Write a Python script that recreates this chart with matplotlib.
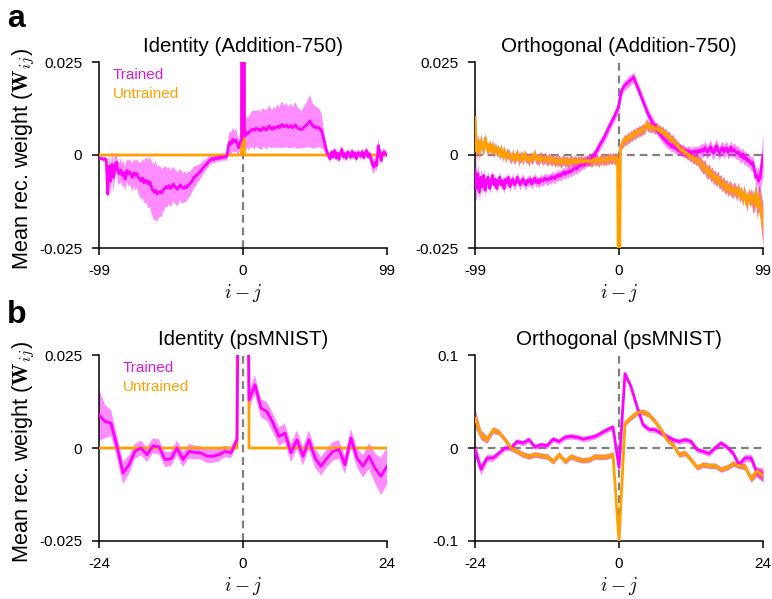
import numpy as np
import matplotlib
matplotlib.use("Agg")
import matplotlib.pyplot as plt

plt.rcParams['font.family'] = ['Liberation Sans', 'DejaVu Sans']
plt.rcParams['mathtext.fontset'] = 'cm'

# ---------------- data (values in units of 1e-3) ----------------
lags_add = list(range(-99, 100))
lags_ps = list(range(-24, 25))

# Identity (Addition-750), trained
id_add_trained_mean = [
    -0.8, -1.0, -0.9, -1.2, -1.0, -1.3,
    -10.5,
    -3, -7, -2.5, -6, -3,
    -2,
    -4.5, -5, -4, -5.5, -4.8, -6.5, -4.2, -5, -4.5, -5.2, -6, -4.8, -5.5, -5, -6,
    -6.5, -7, -6.2, -7.5, -6.8, -7, -7.8, -7.2, -8.5, -9.5,
    -10, -9.5, -10.5, -10, -9.8, -10.2, -9.5, -9,
    -8.5, -8.8, -8.2, -9, -8.6, -7.8, -8.4, -8.8, -9.2, -8.5, -8, -8.7, -9, -8.5, -8.8, -8.2, -8,
    -7.5, -7, -6.2, -5.8,
    -5.5, -5, -4.8, -4.2, -3.8, -3.2, -2.8, -2.5, -2,
    -1.5, -1.2, -0.9, -1.3, -0.8, -1, -0.6, -0.9, -0.5, -0.7, -0.4, -0.6, -0.3,
    2.5, 3.5, 3, 4.2, 3.6, 4, 3.2,
    2, 3.5, 4,
    200,
    5, 5.5, 6, 5.8,
    6.5, 6.8, 7, 6.6, 7.2, 6.9, 7, 6.5, 6.8, 7.4, 7.1, 6.7, 7.3, 7.8, 7.2, 6.9, 7.5, 7.1,
    7.5, 7.8, 7.3, 7.9, 8.2, 7.6, 7.8, 8, 7.4, 7.6, 7.9, 7.3, 7.7, 8.1, 7.5, 7.2,
    7, 6.8, 7.1, 7.5, 7.8, 8.2, 8.6, 9.2, 8.4, 7.8, 7.5, 7.6, 7.2, 7.4, 7, 6.5,
    5, 3.5, 1.8, 0.5, -0.3,
    -1, 0.8, -0.5, 1.2, -0.8, 0.5, -1.2, 0.6, 1.5, -0.5, 0.3, -0.9, 0.8, 0.2, -0.6, 1.0,
    -0.4, 0.5, -1.0, 0.6, 0.2, -0.3, 0.9, -0.7, 0.4, 1.2, -0.5, 0.3, -1.2, -2.5, -3.2, -2.0,
    -2.8, 2.5, 1.0, -1.5, 0.5, 0.8, 0.2, 0.1,
]
id_add_trained_sd = (
    [0.5] * 6 + [1.5] + [3.5, 4, 3.5, 4, 3.5] + [2.5]
    + [3, 3, 3.2, 3, 3.4, 3.2, 3, 3.5, 3.3, 3.6, 3.8, 3.5, 4, 3.8, 4.2]
    + [4.5, 5, 5.2, 5.5, 6, 6.2, 6.5, 6.8, 7, 7.2]
    + [7.5, 8, 7.5, 7, 6.8, 6.5, 6, 5.8]
    + [5.5, 5.2, 5, 4.8, 5, 4.6, 4.5, 4.8, 4.4, 4.5, 4.2, 4.3, 4, 4.2, 3.8, 3.6, 3.5]
    + [3.3, 3.1, 3, 2.8]
    + [2.6, 2.4, 2.2, 2, 1.9, 1.8, 1.6, 1.5, 1.4]
    + [1.3, 1.2, 1.2, 1.1, 1.1, 1, 1, 1, 1, 1, 1, 1, 1.2]
    + [2.5, 3, 3, 3.2, 3, 3, 2.8]
    + [2, 2, 1.5]
    + [0]
    + [3.5, 4, 4.2, 4.5]
    + [4.5, 4.8, 5, 5.2, 4.8, 5, 5.3, 5, 5.5, 5.2, 5, 5.4, 5.2, 5.6, 5.3, 5, 5.5, 5.2]
    + [5.5, 5.8, 5.4, 6, 6.2, 5.8, 5.6, 6, 5.5, 5.8, 6, 5.4, 5.6, 6.2, 5.8, 5.5,
       5.2, 5, 5.3, 5.6, 5.8, 6.2, 6.5, 7, 6.5, 6, 5.8, 5.6, 5.4, 5.2, 5, 4.5]
    + [3.5, 2.5, 1.8, 1.2, 1]
    + [1] * 28 + [1.5, 2, 2, 1.8, 1.5, 2, 1.5, 1.2, 1, 1, 1, 0.8]
)
id_add_untrained_mean = [0.0] * 99 + [1000.0] + [0.0] * 99

# Orthogonal (Addition-750)
orth_add_trained_mean = [
    -4,
    -9, -5, -10, -6, -8.5, -5.5, -9.5, -7, -6, -9, -7.5, -5.5, -8, -6.5, -9, -7,
    -6, -8, -7, -9, -6.5, -7.5, -6, -8.5, -7, -6.5, -8, -7.5, -6, -7, -8,
    -7, -6.5, -7.5, -8, -6.8, -7.2, -6.5, -7.8, -7, -6.2, -7.4, -6.8, -7.6, -6.5, -7, -6.8, -6.2, -6.6,
    -6.8, -6.2, -6.5, -5.8, -6, -6.4, -5.5, -5.8, -5.2, -5.6, -5, -4.6, -5.2, -4.5, -4.8, -4.2, -4.5, -4, -3.8,
    -3.5, -3.8, -3.2, -3, -2.8, -2.2, -2.5, -1.8, -1.5, -1.2, -1.4, -0.8, -0.4,
    0, 0.8, 1.2, 2.2, 2.8, 3.5, 4.2, 4.8, 5.8,
    6.5, 7.5, 8.2, 9, 9.8, 10.5, 11.5, 12.2,
    13.5,
    16, 17.5, 18.2, 18.8, 19, 19.5, 19.8, 20.2, 20.5,
    21,
    19.8, 19, 18, 17, 16, 15, 14, 13, 12, 11, 10.2, 9.5, 8.8, 8.2,
    7.6, 7, 6.2, 5.8, 5.2, 4.6, 4.2, 3.8, 3.3,
    3, 2.8, 2.2, 2.5, 1.8, 2, 1.5, 1.2, 1.6, 1, 0.8, 1.3, 0.6, 0.9, 1.2, 0.7, 0.5, 1, 0.8, 1.1, 0.6, 1.3, 0.9,
    1.5, 1, 2, 1.2, 0.8, 1.6, 2.2, 1, 0.5, 1.8, 2.5, 1.2, 0.6, 1.4, 2, 0.8, 1.5, 1.9, 0.7, 1.2, 2.1, 1, 1.4,
    1, 0.5, 0.8, 0, -0.5, 0.3, -1, -0.6, -1.5, -1.2, -2, -2.5, -2,
    -4, -6, -5.5, -7, -6, -3, 0,
]
orth_add_trained_sd = (
    [8] + [3, 2.8, 2.6, 2.4, 2.2, 2, 1.8, 1.6, 1.5] + [1.4] * 89
    + [1.5] + [1.4] * 55 + [1.8] * 39 + [2.5, 3, 3.5, 4.5, 6]
)
orth_add_untrained_mean = [
    10,
    1, 3.5, 0.5, 4, 2, 1.5, 4.5, 2.5, 0.8, 3, 1.2, 2.8, 0.5, 2.2, 0.8, 1.5, 0, 1.8, -0.5, 1.2, -0.8, 0.5, 0.2, -0.5,
    -1, 0.2, -1.2, -0.5, 0.5, -1.5, -0.8, -0.2, -1.3, 0.3, -1, -0.6, -1.8, -0.4, -1.1, -0.7, 0.4, -1.2, -0.9, -1.5,
    -0.3, -1, -1.4, -0.6, -1.2, -1.6, -0.8, -1.3,
    -1.5, -1, -2, -1.2, -1.8, -1.4, -2.2, -1.6, -1.1, -2, -1.5, -2.3, -1.7, -1.2, -2, -1.8, -1.4, -2.2, -1.5,
    -1.9, -1.3, -2.1, -1.6, -1.8, -1.4,
    -1.8, -1.3, -2, -1.5, -1, -1.7, -1.2, -1.9, -1.4, -0.8, -1.5, -1.1, -1.6, -0.9, -1.3, -0.7, -1.2, -0.6,
    -1.4, -0.8, -1.2,
    -60,
    2, 3, 3.5, 4.2, 3.8, 4.8, 4.4, 5.2, 5,
    5.8, 5.4, 6.2, 6, 6.6, 6.3, 7, 6.8, 7.4,
    8.5, 7.5, 7.8, 7.2, 7.8, 7.3,
    7, 7.5, 6.5, 6.8, 6, 6.5, 5.5, 5.8, 4.8, 5.2, 4.5, 3.8, 4.2, 3.2, 3, 2.4, 2, 1.6,
    1.2, 1.5, 0.5, 0.8, 0, 0.2, -0.5, -0.3, -1, -0.8, -1.5, -1.2, -2, -2.3,
    -2.8, -3.5, -3, -4.2, -4.8, -4, -5.5, -5, -6.2, -5.8, -6.8, -6, -7.5, -7, -8.2, -7.6, -8.8, -8.2, -9.5,
    -8.6, -9.2, -10, -9,
    -9.5, -10.5, -9, -11, -10, -12, -9.8, -11.5, -13.5, -10.5, -12, -11, -13, -12.5, -10, -14, -11.5, -13,
    -16, -19,
]
orth_add_untrained_sd = (
    [8] + [2.5, 2.2, 2, 1.8, 1.6, 1.5] + [1.4] * 92
    + [0] + [1.4] * 55 + [1.8] * 34 + [2, 2.2, 2.5, 2.8, 3, 3.2, 3.5, 4, 5, 6]
)

# Identity (psMNIST)
id_ps_trained_mean = [
    8.9, 7.1, 6.7, 0.4, -6.7, -4.5, -0.9, 0, -1.8, 0.6, 0.3, -3.1, -2.9, 0, -3.1, -0.9,
    -1.2, -1.3, -2.2, -2.2, -1.8, -0.9, -1.3, 2.2,
    200,
    12.9, 17, 10.7, 9.8, 6.7, 3.1, 4, -1.3, 2.2, -2.2, 2.2, -2.7, -4.9, -2.7, -0.9, -0.4,
    -4.5, 2.7, -2.7, -4.9, -2.2, -5.4, -7.6, -4.9,
]
id_ps_trained_sd = [
    7, 4.5, 3.5, 3, 3, 2.5, 2, 2, 2, 2, 2, 2, 2, 2, 2, 2,
    1.8, 1.8, 1.8, 1.8, 1.8, 1.5, 1.5, 1.5,
    0,
    2.5, 2.5, 2.5, 2.5, 2.5, 2.5, 2.5, 2.5, 2.5, 2.5, 2.5, 2.5, 2.5, 2.5, 2.5, 2.5,
    2.5, 2.5, 2.5, 3, 3.5, 4, 5, 5,
]
id_ps_untrained_mean = [0.0] * 24 + [1000.0] + [0.0] * 24

# Orthogonal (psMNIST)
orth_ps_trained_mean = [
    -1.8, -23, -10.7, -10.7, -5.4, 0, 0, 7, 5.4, 9, 1, 3.6, 2.5, 9.6, 7, 11.8,
    12.5, 11.8, 9.6, 11, 12.5, 16, 19.6, 22.5,
    -21,
    80, 66, 44.6, 25, 20, 19.6, 16, 12.5, 9, 7, 9, 7, -1.8, -3.6, -6, 0,
    5.4, 1, -5.4, -17.9, -10.7, -10.7, -26.8, -28.6,
]
orth_ps_trained_sd = [
    8, 6, 4, 3.5, 3, 3, 3, 3, 3, 3, 3, 3, 3, 3, 3, 3,
    3, 3, 3, 3, 3, 3, 3, 3,
    3,
    3, 3, 3, 3, 3, 3, 3, 3, 3, 3, 3, 3, 3, 3, 3, 3,
    3, 3, 3, 3.5, 4, 4, 5, 8,
]
orth_ps_untrained_mean = [
    32, 14, 9, 19.6, 16.8, 9, 0, -3.6, -7, -9, -7, -8.2, -9, -14.3, -7, -14.3,
    -9, -11.8, -13.2, -12.5, -9, -9.6, -9, -7,
    -100,
    26.8, 33, 38, 39, 35.7, 28.6, 19.6, 9, 3.6, -7, -5.4, -12.5, -21, -17.9, -19, -19,
    -23, -21, -16.8, -19, -20, -33, -25, -30,
]
orth_ps_untrained_sd = [
    10, 5, 4, 3.5, 3, 3, 3, 3, 3, 3, 3, 3, 3, 3, 3, 3,
    3, 3, 3, 3, 3, 3, 3, 3,
    0,
    3, 3, 3, 3, 3, 3, 3, 3, 3, 3, 3, 3, 3, 3, 3, 3,
    3, 3, 3, 3, 3.5, 4, 5, 6,
]

titles = ["Identity (Addition-750)", "Orthogonal (Addition-750)",
          "Identity (psMNIST)", "Orthogonal (psMNIST)"]

# ---------------- styles ----------------
C_TR = "#FF00FF"
C_TR_BAND = "#FF00FF"
C_UN = "#FFA000"
C_UN_BAND = "#F86A6A"

fig = plt.figure(figsize=(7.72, 5.99), dpi=100)
W, H = 772, 599


def make_ax(x0, x1, ytop, ybot):
    return fig.add_axes([x0 / W, 1 - ybot / H, (x1 - x0) / W, (ybot - ytop) / H])


axes = [make_ax(99, 387, 62, 248), make_ax(475, 763, 62, 248),
        make_ax(99, 387, 355, 541), make_ax(475, 763, 355, 541)]

panels = [
    (lags_add, id_add_trained_mean, id_add_trained_sd, id_add_untrained_mean, None,
     0.025, ["0.025", "0", "-0.025"], [-99, 0, 99], False),
    (lags_add, orth_add_trained_mean, orth_add_trained_sd, orth_add_untrained_mean,
     orth_add_untrained_sd, 0.025, ["0.025", "0", "-0.025"], [-99, 0, 99], True),
    (lags_ps, id_ps_trained_mean, id_ps_trained_sd, id_ps_untrained_mean, None,
     0.025, ["0.025", "0", "-0.025"], [-24, 0, 24], False),
    (lags_ps, orth_ps_trained_mean, orth_ps_trained_sd, orth_ps_untrained_mean,
     orth_ps_untrained_sd, 0.1, ["0.1", "0", "-0.1"], [-24, 0, 24], True),
]

for i, (ax, p) in enumerate(zip(axes, panels)):
    lags, trm, trs, unm, uns, ylim, ylabels, xt, hline = p
    x = np.array(lags)
    trm = np.array(trm) * 1e-3
    trs = np.array(trs) * 1e-3
    unm = np.array(unm) * 1e-3

    ax.axvline(0, color="#808080", ls=(0, (3.5, 2.2)), lw=1.6, zorder=1)
    if hline:
        ax.axhline(0, color="#808080", ls=(0, (3.5, 2.2)), lw=1.6, zorder=1)

    if uns is not None:
        uns = np.array(uns) * 1e-3
        ax.fill_between(x, unm - uns, unm + uns, color=C_UN_BAND, alpha=0.85,
                        lw=0, zorder=2)
    ax.fill_between(x, trm - trs, trm + trs, color=C_TR_BAND, alpha=0.45,
                    lw=0, zorder=2)
    if hline:
        ax.plot(x, trm, color=C_TR, lw=2.0, zorder=3)
        ax.plot(x, unm, color=C_UN, lw=2.0, zorder=4)
    else:
        ax.plot(x, unm, color=C_UN, lw=2.0, zorder=3)
        ax.plot(x, trm, color=C_TR, lw=2.0, zorder=4)

    ax.set_xlim(xt[0], xt[-1])
    ax.set_ylim(-ylim, ylim)
    ax.set_xticks(xt)
    ax.set_xticklabels([str(v) for v in xt])
    ax.set_yticks([ylim, 0, -ylim])
    ax.set_yticklabels(ylabels)
    for s in ["top", "right"]:
        ax.spines[s].set_visible(False)
    for s in ["left", "bottom"]:
        ax.spines[s].set_linewidth(1.1)
    ax.tick_params(axis="both", direction="out", length=5, width=1.1,
                   labelsize=11)
    ax.tick_params(axis="x", pad=6.5)
    ax.tick_params(axis="y", pad=7)
    ax.set_title(titles[i], fontsize=14.8, pad=7)
    ax.set_xlabel(r"$i-j$", fontsize=14, labelpad=3)

# legends as coloured text
axes[0].text(0.048, 0.93, "Trained", color="#D81ED8", fontsize=11,
             transform=axes[0].transAxes, va="center", ha="left")
axes[0].text(0.048, 0.83, "Untrained", color=C_UN, fontsize=11,
             transform=axes[0].transAxes, va="center", ha="left")
axes[2].text(0.083, 0.93, "Trained", color="#D81ED8", fontsize=11,
             transform=axes[2].transAxes, va="center", ha="left")
axes[2].text(0.083, 0.83, "Untrained", color=C_UN, fontsize=11,
             transform=axes[2].transAxes, va="center", ha="left")

ylab = r"Mean rec. weight ($\mathbf{W}_{ij}$)"
fig.text(24 / W, 1 - 159 / H, ylab, rotation=90, fontsize=15.6, ha="center",
         va="center")
fig.text(24 / W, 1 - 452 / H, ylab, rotation=90, fontsize=15.6, ha="center",
         va="center")

fig.text(7 / W, 1 - 27 / H, "a", fontsize=23, fontweight="bold",
         va="baseline", ha="left")
fig.text(7 / W, 1 - 323 / H, "b", fontsize=23, fontweight="bold",
         va="baseline", ha="left")

fig.savefig("out.png", dpi=100)
